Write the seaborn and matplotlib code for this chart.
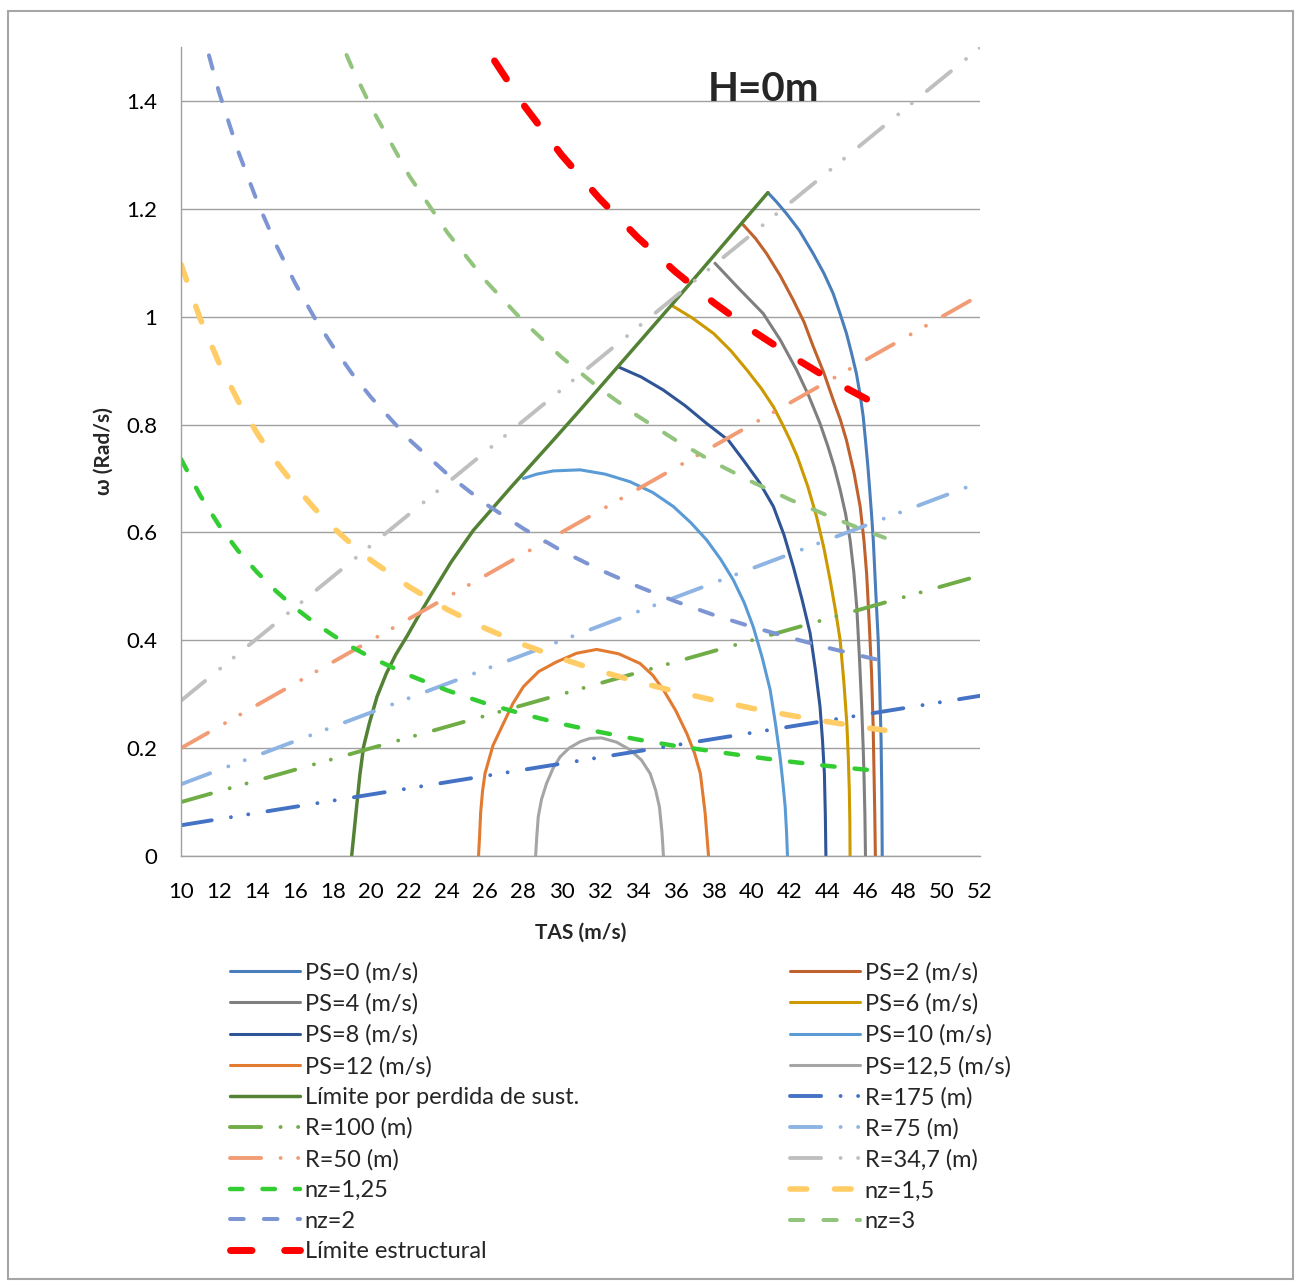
import matplotlib
matplotlib.use("Agg")
import matplotlib.pyplot as plt
import seaborn as sns
import pandas as pd
from matplotlib.patches import Rectangle
from matplotlib.ticker import FuncFormatter

# ---- data (TAS in m/s, omega in rad/s) ----
ps0_tas = [40.85, 41.30, 41.83, 42.50, 43.23, 43.80, 44.28, 44.65, 44.98, 45.25, 45.50, 45.70, 45.86,
           45.98, 46.10, 46.20, 46.30, 46.39, 46.52, 46.65, 46.73, 46.80, 46.84, 46.86]
ps0_w = [1.230, 1.213, 1.191, 1.160, 1.117, 1.080, 1.043, 1.005, 0.969, 0.932, 0.895, 0.855, 0.815,
         0.771, 0.725, 0.680, 0.633, 0.586, 0.490, 0.400, 0.310, 0.215, 0.110, 0.0]

ps2_tas = [39.56, 40.20, 40.78, 41.50, 42.18, 42.75, 43.23, 43.80, 44.28, 44.65, 44.98, 45.38, 45.70,
           45.90, 46.04, 46.18, 46.30, 46.38, 46.43, 46.47, 46.50]
ps2_w = [1.170, 1.145, 1.117, 1.076, 1.031, 0.990, 0.945, 0.895, 0.846, 0.810, 0.771, 0.710, 0.648,
         0.585, 0.524, 0.430, 0.339, 0.245, 0.153, 0.075, 0.0]

ps4_tas = [38.07, 39.30, 40.60, 41.50, 42.36, 43.00, 43.59, 44.00, 44.35, 44.65, 44.93, 45.17, 45.37,
           45.52, 45.66, 45.78, 45.86, 45.90, 45.95, 45.98]
ps4_w = [1.099, 1.053, 1.006, 0.957, 0.901, 0.853, 0.802, 0.760, 0.720, 0.679, 0.635, 0.586, 0.525,
         0.462, 0.370, 0.277, 0.200, 0.153, 0.075, 0.0]

ps6_tas = [35.84, 36.90, 37.99, 38.90, 39.75, 40.50, 41.14, 41.62, 42.02, 42.40, 42.95, 43.41, 43.80,
           44.12, 44.40, 44.65, 44.85, 45.00, 45.08, 45.13, 45.16, 45.17]
ps6_w = [1.020, 0.997, 0.969, 0.937, 0.901, 0.867, 0.833, 0.800, 0.771, 0.740, 0.685, 0.629, 0.570,
         0.512, 0.456, 0.400, 0.320, 0.246, 0.180, 0.122, 0.060, 0.0]

ps8_tas = [32.98, 34.20, 35.35, 36.50, 37.63, 38.77, 39.56, 40.40, 41.14, 41.70, 42.19, 42.65, 43.07,
           43.35, 43.59, 43.72, 43.82, 43.87, 43.90]
ps8_w = [0.907, 0.888, 0.864, 0.835, 0.802, 0.771, 0.734, 0.693, 0.648, 0.595, 0.536, 0.475, 0.413,
         0.345, 0.277, 0.215, 0.153, 0.075, 0.0]

ps10_tas = [28.00, 28.70, 29.57, 30.98, 32.30, 33.60, 34.80, 35.88, 36.80, 37.63, 38.37, 39.03, 39.60,
            40.08, 40.55, 40.97, 41.25, 41.49, 41.64, 41.76, 41.83, 41.88]
ps10_w = [0.700, 0.708, 0.714, 0.716, 0.708, 0.694, 0.674, 0.648, 0.618, 0.586, 0.550, 0.512, 0.470,
          0.425, 0.368, 0.308, 0.245, 0.184, 0.135, 0.091, 0.045, 0.0]

ps12_tas = [25.64, 25.70, 25.75, 25.85, 25.98, 26.40, 26.95, 27.45, 28.00, 28.80, 29.75, 30.80, 31.85,
            33.00, 34.13, 34.80, 35.36, 36.00, 36.59, 37.00, 37.30, 37.55, 37.73]
ps12_w = [0.0, 0.040, 0.080, 0.120, 0.153, 0.205, 0.246, 0.283, 0.314, 0.342, 0.360, 0.376, 0.383,
          0.375, 0.357, 0.335, 0.308, 0.270, 0.227, 0.190, 0.153, 0.080, 0.0]

ps125_tas = [28.64, 28.70, 28.78, 28.95, 29.22, 29.55, 29.93, 30.40, 30.98, 31.50, 32.11, 32.90, 33.60,
             34.20, 34.66, 34.95, 35.15, 35.28, 35.36]
ps125_w = [0.0, 0.035, 0.073, 0.105, 0.135, 0.162, 0.184, 0.200, 0.212, 0.218, 0.219, 0.211, 0.197,
           0.178, 0.153, 0.122, 0.091, 0.045, 0.0]

stall_tas = [18.97, 19.10, 19.23, 19.40, 19.60, 19.90, 20.30, 20.80, 21.30, 21.87, 22.45, 23.09, 24.20,
             25.37, 27.40, 29.57, 30.98, 35.87, 40.85]
stall_w = [0.0, 0.045, 0.091, 0.150, 0.203, 0.246, 0.295, 0.339, 0.374, 0.407, 0.443, 0.481, 0.545,
           0.604, 0.686, 0.771, 0.827, 1.025, 1.230]

r_tas = [10, 52]
r175_w = [0.057, 0.297]
r100_w = [0.100, 0.520]
r75_w = [0.133, 0.693]
r50_w = [0.200, 1.040]
r347_w = [0.288, 1.499]

nz_tas = [10, 11, 12, 13, 14, 15, 16, 17, 18, 19, 20, 22, 24, 26, 28, 30, 32, 34, 36, 38, 40, 42, 44, 46, 47]
nz125_w = [0.736, 0.669, 0.613, 0.566, 0.526, 0.491, 0.460, 0.433, 0.409, 0.387, 0.368, 0.335, 0.307,
           0.283, 0.263, 0.245, 0.230, 0.216, 0.204, 0.194, 0.184, 0.175, 0.167, 0.160, 0.157]
nz15_w = [1.097, 0.997, 0.914, 0.844, 0.784, 0.731, 0.686, 0.645, 0.609, 0.577, 0.548, 0.499, 0.457,
          0.422, 0.392, 0.366, 0.343, 0.323, 0.305, 0.289, 0.274, 0.261, 0.249, 0.238, 0.233]
nz2_tas = [11, 12, 13, 14, 15, 16, 17, 18, 19, 20, 22, 24, 26, 28, 30, 32, 34, 36, 38, 40, 42, 44, 46, 47]
nz2_w = [1.545, 1.416, 1.307, 1.214, 1.133, 1.062, 0.999, 0.944, 0.894, 0.850, 0.772, 0.708,
         0.653, 0.607, 0.566, 0.531, 0.500, 0.472, 0.447, 0.425, 0.405, 0.386, 0.369, 0.361]
nz3_tas = [18, 19, 20, 22, 24, 26, 28, 30, 32, 34, 36, 38, 40, 42, 44, 46, 47]
nz3_w = [1.542, 1.461, 1.388, 1.261, 1.156, 1.067, 0.991, 0.925, 0.867, 0.816, 0.771, 0.730,
         0.694, 0.661, 0.631, 0.603, 0.590]
struct_tas = [25, 26, 28, 30, 32, 34, 36, 38, 40, 42, 44, 46, 47]
struct_w = [1.560, 1.500, 1.393, 1.300, 1.219, 1.147, 1.083, 1.026, 0.975, 0.929, 0.886, 0.848, 0.830]

# (label, x, y, color, linewidth, dash pattern in lw units or None)
RDASH = (8, 5, 0.01, 4.5, 0.01, 5)
series = [
    ("PS=0 (m/s)", ps0_tas, ps0_w, "#4A7EBB", 2.2, None),
    ("PS=2 (m/s)", ps2_tas, ps2_w, "#C0622D", 2.2, None),
    ("PS=4 (m/s)", ps4_tas, ps4_w, "#7F7F7F", 2.2, None),
    ("PS=6 (m/s)", ps6_tas, ps6_w, "#CC9900", 2.2, None),
    ("PS=8 (m/s)", ps8_tas, ps8_w, "#2F5597", 2.2, None),
    ("PS=10 (m/s)", ps10_tas, ps10_w, "#5B9BD5", 2.2, None),
    ("PS=12 (m/s)", ps12_tas, ps12_w, "#E27A30", 2.2, None),
    ("PS=12,5 (m/s)", ps125_tas, ps125_w, "#A5A5A5", 2.2, None),
    ("Límite por perdida de sust.", stall_tas, stall_w, "#548235", 2.5, None),
    ("R=175 (m)", r_tas, r175_w, "#4472C4", 2.8, RDASH),
    ("R=100 (m)", r_tas, r100_w, "#70AD47", 2.8, RDASH),
    ("R=75 (m)", r_tas, r75_w, "#8EB4E3", 2.8, RDASH),
    ("R=50 (m)", r_tas, r50_w, "#F29C76", 2.8, RDASH),
    ("R=34,7 (m)", r_tas, r347_w, "#BFBFBF", 2.8, RDASH),
    ("nz=1,25", nz_tas, nz125_w, "#33CC33", 3.2, (2.8, 4.5)),
    ("nz=1,5", nz_tas, nz15_w, "#FFCC66", 4.0, (3.0, 5.0)),
    ("nz=2", nz2_tas, nz2_w, "#7D96D3", 2.9, (3.4, 5.0)),
    ("nz=3", nz3_tas, nz3_w, "#93C47D", 2.9, (3.3, 5.0)),
    ("Límite estructural", struct_tas, struct_w, "#FF0000", 5.0, (3.1, 4.7)),
]

sns.set_theme(style="white")
plt.rcParams["font.family"] = ["Lato", "DejaVu Sans"]

fig = plt.figure(figsize=(13.01, 12.88), dpi=100)
ax = fig.add_axes([181 / 1301, 1 - 856 / 1288, 799 / 1301, 809 / 1288])

handles = []
for label, xs, ys, color, lw, dash in series:
    df = pd.DataFrame({"TAS": xs, "w": ys})
    ls = "-" if dash is None else (0, dash)
    sns.lineplot(data=df, x="TAS", y="w", ax=ax, color=color, linewidth=lw, linestyle=ls,
                 estimator=None, sort=False, legend=False, label=label,
                 dash_capstyle="round", solid_capstyle="round", solid_joinstyle="round")
    handles.append(ax.lines[-1])

ax.set_xlim(10, 52)
ax.set_ylim(0, 1.5)
ax.set_xticks(range(10, 53, 2))
ax.set_yticks([0, 0.2, 0.4, 0.6, 0.8, 1.0, 1.2, 1.4])
ax.yaxis.set_major_formatter(FuncFormatter(lambda v, p: f"{v:g}"))
ax.grid(axis="y", color="#A0A0A0", linewidth=1.0)
ax.grid(axis="x", visible=False)
ax.set_axisbelow(True)
for s in ["top", "right"]:
    ax.spines[s].set_visible(False)
for s in ["left", "bottom"]:
    ax.spines[s].set_color("#A0A0A0")
    ax.spines[s].set_linewidth(1.0)
ax.tick_params(axis="both", direction="out", length=6, width=1.0, color="#A0A0A0",
               labelsize=16, labelcolor="black")
ax.tick_params(axis="x", pad=12.5)
ax.tick_params(axis="y", pad=11)
ax.set_xlabel("TAS (m/s)", fontsize=15, fontweight="bold", labelpad=15)
ax.set_ylabel("ω (Rad/s)", fontsize=15, fontweight="bold", labelpad=9)

ax.text(0.729, 1.4 / 1.5, "H=0m", transform=ax.transAxes, ha="center", va="baseline",
        fontsize=29, fontweight="bold")

# legend: Excel fills it row by row, so split into two columns
leg_kw = dict(frameon=False, fontsize=17, handlelength=2.96, handletextpad=0.2,
              labelspacing=0.41, borderpad=0, borderaxespad=0, loc="upper left",
              bbox_transform=fig.transFigure)
left = fig.legend(handles[0::2], [h.get_label() for h in handles[0::2]],
                  bbox_to_anchor=(230 / 1301, 1 - 962 / 1288), **leg_kw)
right = fig.legend(handles[1::2], [h.get_label() for h in handles[1::2]],
                   bbox_to_anchor=(790 / 1301, 1 - 962 / 1288), **leg_kw)

fig.patches.append(Rectangle((8 / 1301, 1 - 1279 / 1288), 1285 / 1301, 1268 / 1288,
                             transform=fig.transFigure, fill=False,
                             edgecolor="#A6A6A6", linewidth=1.5))

fig.savefig("out.png", dpi=100)
